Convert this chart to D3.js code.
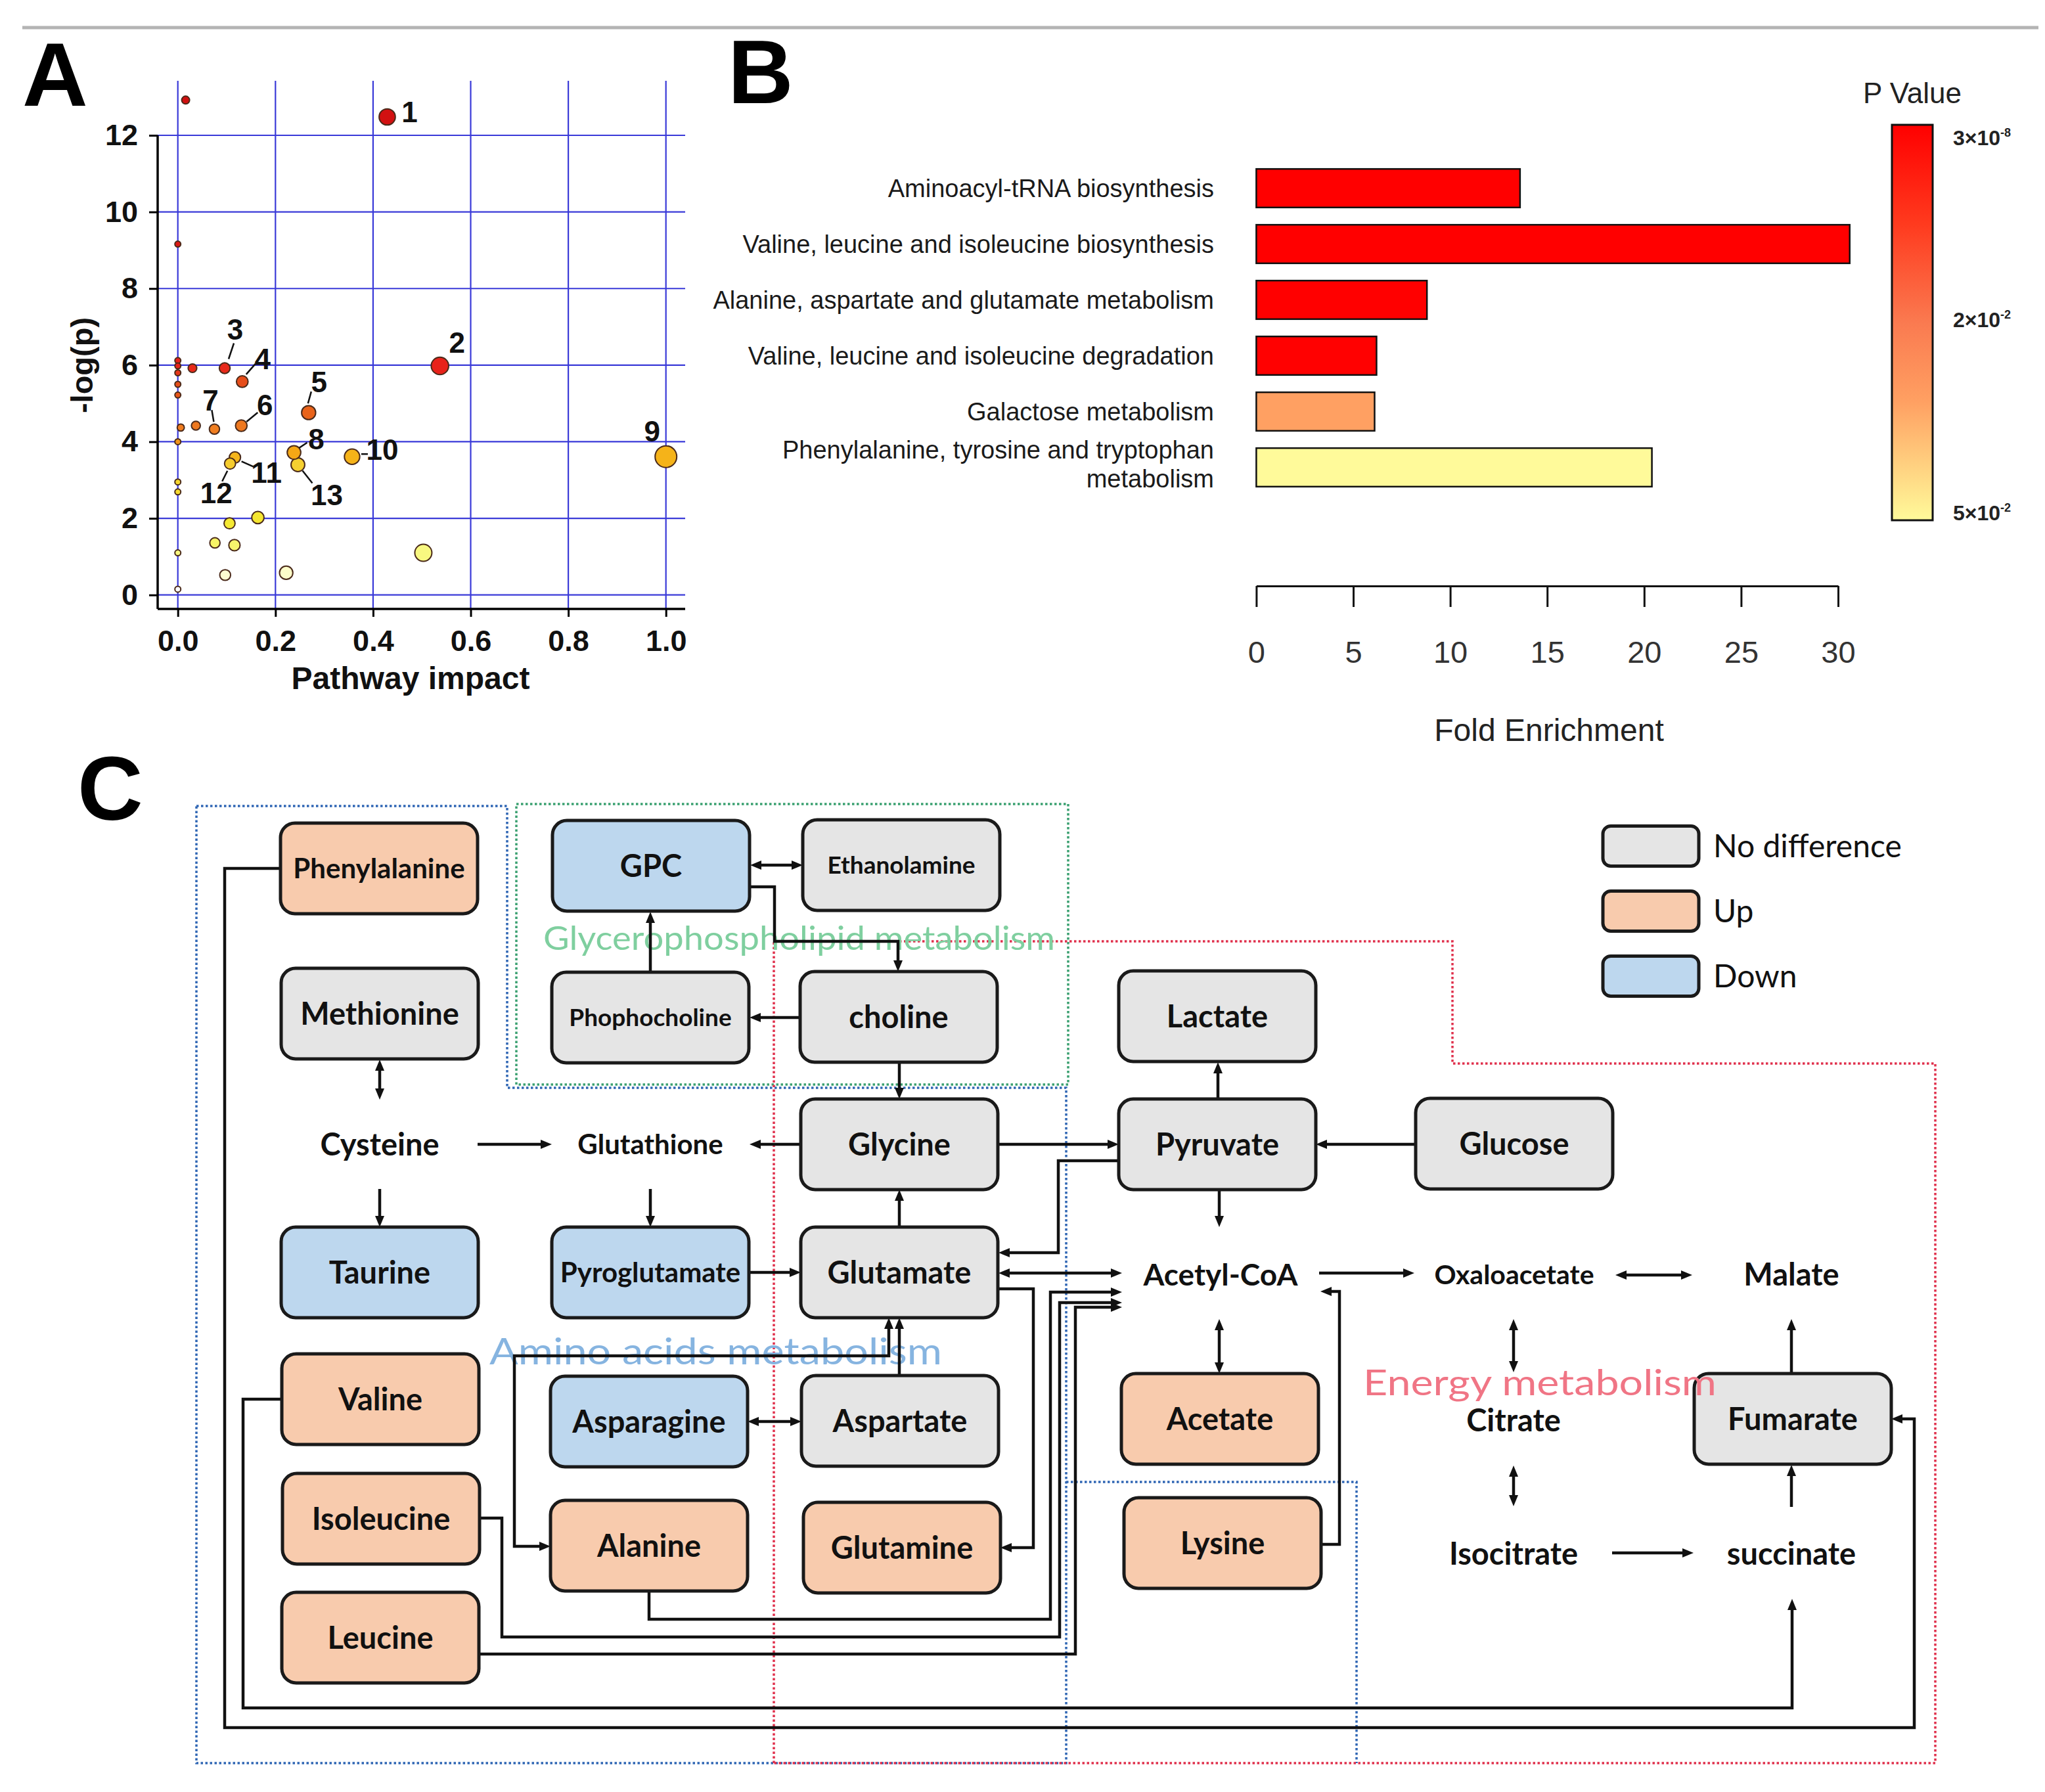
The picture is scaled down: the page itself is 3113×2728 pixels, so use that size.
<!DOCTYPE html>
<html><head><meta charset="utf-8">
<script src="https://cdn.jsdelivr.net/npm/d3@7"></script>
<style>body{margin:0;background:#fff} svg{display:block}</style>
</head><body>
<svg id="c" width="3113" height="2728"></svg>
<script>
// ---------------- DATA ----------------
// Panel A: pathway impact vs -log(p)
const pathwayImpact = [0.016,0.429,0,0.537,0.096,0.030,0,0,0,0,0,0.132,0.268,0.130,0.075,0.037,0.006,0,0.238,1.0,0.357,0.117,0.107,0.246,0,0,0.164,0.106,0.076,0.116,0.503,0.097,0.222,0,0];
const negLogP      = [12.92,12.48,9.16,5.98,5.92,5.92,6.12,5.98,5.80,5.50,5.22,5.57,4.76,4.42,4.33,4.42,4.37,4.0,3.72,3.61,3.61,3.59,3.43,3.40,2.95,2.69,2.02,1.87,1.36,1.30,1.10,0.52,0.58,1.10,0.15];
const pointLabels  = ["","1","","2","3","","","","","","","4","5","6","7","","","","8","9","10","11","12","13","","","","","","","","","","",""];
const xTicksA = [0,0.2,0.4,0.6,0.8,1.0];
const yTicksA = [0,2,4,6,8,10,12];

// Panel B: enrichment
const pathways = ["Aminoacyl-tRNA biosynthesis","Valine, leucine and isoleucine biosynthesis","Alanine, aspartate and glutamate metabolism","Valine, leucine and isoleucine degradation","Galactose metabolism","Phenylalanine, tyrosine and tryptophan metabolism"];
const foldEnrichment = [13.6,30.6,8.8,6.2,6.1,20.4];
const pValues = [3e-8,3e-8,1e-6,2e-4,0.032,0.05];
const xTicksB = [0,5,10,15,20,25,30];
const pTickMant = ["3×10","2×10","5×10"];
const pTickExp  = ["-8","-2","-2"];
const pTickVals = [3e-8,2e-2,5e-2];

// Panel C: metabolite network
const nodeNames = ["Phenylalanine","GPC","Ethanolamine","Methionine","Phophocholine","choline","Lactate","Cysteine","Glutathione","Glycine","Pyruvate","Glucose","Taurine","Pyroglutamate","Glutamate","Acetyl-CoA","Oxaloacetate","Malate","Valine","Asparagine","Aspartate","Acetate","Citrate","Fumarate","Isoleucine","Alanine","Glutamine","Lysine","Isocitrate","succinate","Leucine"];
const nodeStatus = ["up","down","none","none","none","none","none","text","text","none","none","none","down","down","none","text","text","text","up","down","none","up","text","none","up","up","up","up","text","text","up"];
const legendNames = ["No difference","Up","Down"];
const legendStatus = ["none","up","down"];
const sectionNames = ["Glycerophospholipid metabolism","Amino acids metabolism","Energy metabolism"];

// ---------------- LAYOUT / STYLE ----------------
const W = 3113, H = 2728;
const svg = d3.select('#c');
svg.append('rect').attr('width',W).attr('height',H).attr('fill','#fff');
const ARIAL = '"Liberation Sans", Arial, sans-serif';
const CAL = 'Lato, "Open Sans", sans-serif';

svg.append('line').attr('x1',34).attr('x2',3103).attr('y1',42).attr('y2',42)
  .attr('stroke','#b4b4b4').attr('stroke-width',5);

[['A',34,161],['B',1108,157],['C',118,1248]].forEach(([t,x,y])=>{
  svg.append('text').attr('x',x).attr('y',y).text(t)
    .attr('font-family',ARIAL).attr('font-weight','bold').attr('font-size',138).attr('fill','#000');
});

// ======== Panel A ========
const xA = d3.scaleLinear().domain([0,1]).range([270.7,1013.7]);
const yA = d3.scaleLinear().domain([0,12]).range([905.7,206]);
const rA = d3.scaleSqrt().domain([0,1]).range([4.5,16.5]);
const cA = d3.scaleLinear()
  .domain([0.3,1.1,1.9,3.4,3.65,4.3,4.8,5.6,6.0,13])
  .range(['#fffff0','#f8f880','#f5e830','#f6d030','#f5ad15','#f08020','#e8601a','#e64c1a','#e8201a','#d01010']);
const gA = svg.append('g');
const gridBlue = '#3a3ad8';
xTicksA.forEach(t=>gA.append('line').attr('x1',xA(t)).attr('x2',xA(t)).attr('y1',123).attr('y2',927)
  .attr('stroke',gridBlue).attr('stroke-width',2.2));
yTicksA.forEach(t=>gA.append('line').attr('x1',240).attr('x2',1043).attr('y1',yA(t)).attr('y2',yA(t))
  .attr('stroke',gridBlue).attr('stroke-width',2.2));
gA.append('line').attr('x1',240).attr('x2',240).attr('y1',yA(12)).attr('y2',927).attr('stroke','#000').attr('stroke-width',3.5);
gA.append('line').attr('x1',240).attr('x2',1043).attr('y1',927).attr('y2',927).attr('stroke','#000').attr('stroke-width',3.5);

const axYA = gA.append('g').attr('transform','translate(240,0)')
  .call(d3.axisLeft(yA).tickValues(yTicksA).tickSize(13).tickPadding(17).tickFormat(d3.format('d')));
const axXA = gA.append('g').attr('transform','translate(0,927)')
  .call(d3.axisBottom(xA).tickValues(xTicksA).tickSize(12).tickPadding(20).tickFormat(d3.format('.1f')));
[axYA,axXA].forEach(a=>{
  a.select('.domain').remove();
  a.selectAll('line').attr('stroke','#000').attr('stroke-width',3);
  a.selectAll('text').attr('font-family',ARIAL).attr('font-weight','bold').attr('font-size',45).attr('fill','#111');
});
gA.append('text').attr('x',625).attr('y',1049).attr('text-anchor','middle').text('Pathway impact')
  .attr('font-family',ARIAL).attr('font-weight','bold').attr('font-size',48).attr('fill','#111');
gA.append('text').attr('transform','translate(141,556) rotate(-90)').attr('text-anchor','middle').text('-log(p)')
  .attr('font-family',ARIAL).attr('font-weight','bold').attr('font-size',47).attr('fill','#111');

const ptsA = pathwayImpact.map((v,i)=>({x:v,y:negLogP[i],lab:pointLabels[i]}))
  .sort((a,b)=>b.x-a.x);
gA.selectAll('circle.pt').data(ptsA).join('circle').attr('class','pt')
  .attr('cx',d=>xA(d.x)).attr('cy',d=>yA(d.y)).attr('r',d=>rA(d.x))
  .attr('fill',d=>cA(d.y)).attr('stroke','#4a2a1a').attr('stroke-width',2);

// label placement (pixel offsets from the point): [dx,dy, leader x1,y1,x2,y2]
const labelPlace = {
 "1":[34,-8], "2":[26,-36], "3":[16,-59,14,-38,6,-14], "4":[31,-35,20,-27,6,-11],
 "5":[16,-47,4,-32,-1,-14], "6":[36,-32,25,-20,8,-6], "7":[-6,-44,-4,-29,-1,-11],
 "8":[34,-21,20,-15,8,-7], "9":[-21,-39], "10":[46,-11,14,-4,24,-4],
 "11":[48,23,10,6,28,14], "12":[-21,44,-4,11,-12,27], "13":[44,46,7,9,22,28]
};
ptsA.filter(d=>d.lab).forEach(d=>{
  const p = labelPlace[d.lab], px = xA(d.x), py = yA(d.y);
  if (p.length>2) gA.append('line').attr('x1',px+p[2]).attr('y1',py+p[3]).attr('x2',px+p[4]).attr('y2',py+p[5])
     .attr('stroke','#111').attr('stroke-width',2.5);
  gA.append('text').attr('x',px+p[0]).attr('y',py+p[1]).attr('dy','0.36em').attr('text-anchor','middle').text(d.lab)
    .attr('font-family',ARIAL).attr('font-weight','bold').attr('font-size',44).attr('fill','#111');
});

// ======== Panel B ========
const xB = d3.scaleLinear().domain([0,30]).range([1912.4,2798]);
const yB = d3.scaleBand().domain(pathways).range([244,754]).paddingInner(0.31).paddingOuter(0.155);
const tP = d3.scaleLinear().domain([3e-8,2e-2,5e-2]).range([0,0.5,1]).clamp(true);
const pStops = [[0,'#ff0000'],[0.25,'#ff3a1e'],[0.5,'#fa7a50'],[0.7,'#ffa062'],[1,'#fffa9a']];
const pColor = d3.scaleLinear().domain(pStops.map(s=>s[0])).range(pStops.map(s=>s[1]));
const gB = svg.append('g');
gB.selectAll('rect.bar').data(pathways).join('rect').attr('class','bar')
  .attr('x',xB(0)).attr('y',d=>yB(d)).attr('width',(d,i)=>xB(foldEnrichment[i])-xB(0)).attr('height',yB.bandwidth())
  .attr('fill',(d,i)=>pColor(tP(pValues[i]))).attr('stroke','#111').attr('stroke-width',2.5);
pathways.forEach((d,i)=>{
  const cy = yB(d)+yB.bandwidth()/2;
  const t = gB.append('text').attr('x',1848).attr('text-anchor','end')
    .attr('font-family',ARIAL).attr('font-size',38).attr('fill','#1a1a1a');
  if (d.startsWith('Phenylalanine')) {
    t.append('tspan').attr('x',1848).attr('y',cy-27).attr('dy','0.35em').text('Phenylalanine, tyrosine and tryptophan');
    t.append('tspan').attr('x',1848).attr('y',cy+17).attr('dy','0.35em').text('metabolism');
  } else t.attr('y',cy).attr('dy','0.35em').text(d);
});
const axB = gB.append('g').attr('transform','translate(0,892)')
  .call(d3.axisBottom(xB).tickValues(xTicksB).tickSize(32).tickSizeOuter(0).tickPadding(52));
axB.select('.domain').attr('stroke','#111').attr('stroke-width',3);
axB.selectAll('line').attr('stroke','#111').attr('stroke-width',3);
axB.selectAll('text').attr('font-family',ARIAL).attr('font-size',47).attr('fill','#333');
gB.append('text').attr('x',2358).attr('y',1128).attr('text-anchor','middle').text('Fold Enrichment')
  .attr('font-family',ARIAL).attr('font-size',48).attr('fill','#222');

// colour bar
const defs = svg.append('defs');
const grad = defs.append('linearGradient').attr('id','pgrad').attr('x1',0).attr('x2',0).attr('y1',0).attr('y2',1);
pStops.forEach(s=>grad.append('stop').attr('offset',s[0]).attr('stop-color',s[1]));
const yCB = d3.scaleLinear().domain([0,1]).range([190,792]);
gB.append('rect').attr('x',2880).attr('y',yCB(0)).attr('width',62).attr('height',yCB(1)-yCB(0))
  .attr('fill','url(#pgrad)').attr('stroke','#111').attr('stroke-width',3);
gB.append('text').attr('x',2911).attr('y',157).attr('text-anchor','middle').text('P Value')
  .attr('font-family',ARIAL).attr('font-size',44).attr('fill','#222');
const cbLabelY = [221,498,792];
pTickVals.forEach((v,i)=>{
  const t = gB.append('text').attr('x',2973).attr('y',cbLabelY[i])
    .attr('font-family',ARIAL).attr('font-weight','bold').attr('font-size',32).attr('fill','#222');
  t.append('tspan').text(pTickMant[i]);
  t.append('tspan').attr('dy',-13).attr('font-size',18).text(pTickExp[i]);
});

// ======== Panel C ========
const fills = {none:'#e5e5e5', up:'#f8cbad', down:'#bdd7ee'};
const nodeLayout = {
 Phenylalanine:[577,1322,42], GPC:[991,1318], Ethanolamine:[1372,1317,37], Methionine:[578,1543],
 Phophocholine:[990,1549,37], choline:[1368,1548], Lactate:[1853,1547],
 Cysteine:[578,1742], Glutathione:[990,1742,42], Glycine:[1369,1742], Pyruvate:[1853,1742], Glucose:[2305,1741],
 Taurine:[578,1937], Pyroglutamate:[990,1937,42], Glutamate:[1369,1937], "Acetyl-CoA":[1858,1940,46],
 Oxaloacetate:[2305,1940,41], Malate:[2727,1940],
 Valine:[579,2130], Asparagine:[988,2164], Aspartate:[1370,2163], Acetate:[1857,2160], Citrate:[2304,2162], Fumarate:[2729,2160],
 Isoleucine:[580,2312], Alanine:[988,2353], Glutamine:[1373,2356], Lysine:[1861,2349], Isocitrate:[2304,2365], succinate:[2727,2365],
 Leucine:[579,2493]
};
const BW = 300, BH = 138;
const gC = svg.append('g');

// section boxes
const sections = [
 {pts:[[299,1227],[772,1227],[772,1656],[1623,1656],[1623,2684],[299,2684]], col:'#2f66b4', close:true},
 {pts:[[1623,2256],[2065,2256],[2065,2684]], col:'#2f66b4', close:false},
 {pts:[[786,1224],[1626,1224],[1626,1651],[786,1651]], col:'#3aa070', close:true},
 {pts:[[1178,2684],[1178,1433],[2211,1433],[2211,1619],[2946,1619],[2946,2684]], col:'#e0304c', close:true}
];
const lineGen = d3.line();
sections.forEach(s=>{
  gC.append('path').attr('d',lineGen(s.pts)+(s.close?'Z':'')).attr('fill','none')
    .attr('stroke',s.col).attr('stroke-width',3.5).attr('stroke-dasharray','3.5 3.5');
});
const secLabel = [
 {x:827,y:1446,len:779,fs:50,col:'#7fcf9f',top:false},
 {x:745,y:2077,len:689,fs:57,col:'#86b4e0',top:false},
 {x:2075,y:2124,len:538,fs:55,col:'#f07585',top:true}
];
function drawSection(i){
  const s = secLabel[i];
  gC.append('text').attr('x',s.x).attr('y',s.y).text(sectionNames[i]).attr('textLength',s.len).attr('lengthAdjust','spacingAndGlyphs')
    .attr('font-family',CAL).attr('font-size',s.fs).attr('fill',s.col);
}
sectionNames.forEach((n,i)=>{ if(!secLabel[i].top) drawSection(i); });

// arrow markers
defs.append('marker').attr('id','arr').attr('markerUnits','userSpaceOnUse')
  .attr('markerWidth',18).attr('markerHeight',14).attr('refX',4).attr('refY',7)
  .attr('orient','auto-start-reverse').attr('viewBox','0 0 18 14')
  .append('path').attr('d','M0,0 L17,7 L0,14 Z').attr('fill','#111');

const edges = [
 {p:[[1142,1317],[1222,1317]],a:'both'},
 {p:[[1142,1350],[1179,1350],[1179,1433],[1367,1433],[1367,1479]],a:'end'},
 {p:[[990,1480],[990,1388]],a:'end'},
 {p:[[1218,1549],[1141,1549]],a:'end'},
 {p:[[578,1613],[578,1674]],a:'both'},
 {p:[[727,1742],[840,1742]],a:'end'},
 {p:[[1219,1742],[1141,1742]],a:'end'},
 {p:[[1369,1617],[1369,1673]],a:'end'},
 {p:[[578,1810],[578,1868]],a:'end'},
 {p:[[990,1810],[990,1868]],a:'end'},
 {p:[[1369,1868],[1369,1811]],a:'end'},
 {p:[[1519,1742],[1703,1742]],a:'end'},
 {p:[[1703,1767],[1611,1767],[1611,1907],[1520,1907]],a:'end'},
 {p:[[1140,1937],[1219,1937]],a:'end'},
 {p:[[1520,1938],[1708,1938]],a:'both'},
 {p:[[1519,1962],[1573,1962],[1573,2356],[1523,2356]],a:'end'},
 {p:[[988,2422],[988,2465],[1599,2465],[1599,1967],[1708,1967]],a:'end'},
 {p:[[730,2311],[764,2311],[764,2492],[1613,2492],[1613,1983],[1708,1983]],a:'end'},
 {p:[[729,2518],[1637,2518],[1637,1990],[1708,1990]],a:'end'},
 {p:[[1138,2164],[1220,2164]],a:'both'},
 {p:[[1369,2094],[1369,2006]],a:'end'},
 {p:[[838,2354],[783,2354],[783,2064],[1353,2064],[1353,2006]],a:'both'},
 {p:[[427,1322],[342,1322],[342,2630],[2914,2630],[2914,2160],[2879,2160]],a:'end'},
 {p:[[429,2130],[370,2130],[370,2600],[2728,2600],[2728,2434]],a:'end'},
 {p:[[1854,1672],[1854,1617]],a:'end'},
 {p:[[2155,1742],[2003,1742]],a:'end'},
 {p:[[1856,1811],[1856,1868]],a:'end'},
 {p:[[2008,1938],[2153,1938]],a:'end'},
 {p:[[2459,1941],[2576,1941]],a:'both'},
 {p:[[1856,2008],[1856,2091]],a:'both'},
 {p:[[2304,2008],[2304,2089]],a:'both'},
 {p:[[2727,2091],[2727,2008]],a:'end'},
 {p:[[2304,2231],[2304,2293]],a:'both'},
 {p:[[2454,2364],[2578,2364]],a:'end'},
 {p:[[2727,2294],[2727,2230]],a:'end'},
 {p:[[2009,2351],[2039,2351],[2039,1966],[2010,1966]],a:'end'}
];
function shorten(p, atEnd, by){
  const q = p.map(d=>d.slice());
  const i1 = atEnd ? q.length-1 : 0, i0 = atEnd ? q.length-2 : 1;
  const dx = q[i1][0]-q[i0][0], dy = q[i1][1]-q[i0][1], L = Math.hypot(dx,dy);
  q[i1][0] -= dx/L*by; q[i1][1] -= dy/L*by;
  return q;
}
edges.forEach(e=>{
  let pts = shorten(e.p, true, 13);
  if (e.a==='both') pts = shorten(pts, false, 13);
  const path = gC.append('path').attr('d',lineGen(pts)).attr('fill','none')
    .attr('stroke','#111').attr('stroke-width',4.5).attr('stroke-linejoin','miter')
    .attr('marker-end','url(#arr)');
  if (e.a==='both') path.attr('marker-start','url(#arr)');
});

// nodes
nodeNames.forEach((n,i)=>{
  const [cx,cy,fs] = nodeLayout[n];
  const st = nodeStatus[i];
  if (st!=='text') {
    gC.append('rect').attr('x',cx-BW/2).attr('y',cy-BH/2).attr('width',BW).attr('height',BH)
      .attr('rx',22).attr('fill',fills[st]).attr('stroke','#1a1a1a').attr('stroke-width',5);
  }
  gC.append('text').attr('x',cx).attr('y',cy).attr('dy','0.36em').attr('text-anchor','middle').text(n)
    .attr('font-family',CAL).attr('font-weight','bold').attr('font-size',fs||47).attr('fill','#111');
});
// section label drawn on top of the boxes
sectionNames.forEach((n,i)=>{ if(secLabel[i].top) drawSection(i); });

// legend
const yLeg = d3.scalePoint().domain(legendNames).range([1287.5,1485.5]);
legendNames.forEach((n,i)=>{
  const y = yLeg(n);
  gC.append('rect').attr('x',2440).attr('y',y-30).attr('width',146).attr('height',61).attr('rx',12)
    .attr('fill',fills[legendStatus[i]]).attr('stroke','#1a1a1a').attr('stroke-width',5);
  gC.append('text').attr('x',2608).attr('y',y).attr('dy','0.36em').text(n)
    .attr('font-family',CAL).attr('font-size',48).attr('fill','#111');
});
</script>
</body></html>
